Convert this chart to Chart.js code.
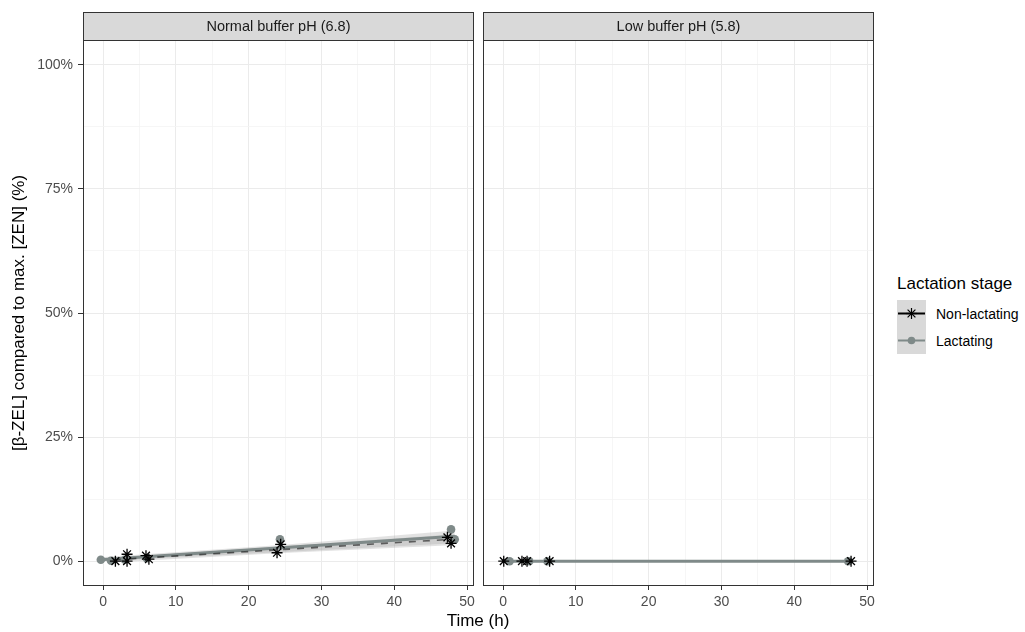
<!DOCTYPE html>
<html>
<head>
<meta charset="utf-8">
<script src="https://cdn.jsdelivr.net/npm/chart.js@4"></script>
<style>
  body { margin: 0; background: #fff; font-family: 'Liberation Sans', Arial, sans-serif; }
  #wrap { position: relative; width: 1025px; height: 632px; overflow: hidden; }
  canvas { position: absolute; top: 0; }
  #xtitle { position: absolute; left: 378px; width: 200px; top: 610px; text-align: center; font-size: 17px; line-height: 22px; color: #000; }
  #legend { position: absolute; left: 897px; top: 274px; color: #000; }
  #legend .ttl { font-size: 17px; line-height: 20px; margin-bottom: 6px; }
  #legend .row { display: flex; align-items: center; height: 27px; }
  #legend .row span { font-size: 14px; margin-left: 10px; }
</style>
</head>
<body>
<div id="wrap">
  <canvas id="leftPanel" width="478" height="632" style="left:0"></canvas>
  <canvas id="rightPanel" width="402" height="632" style="left:478px"></canvas>
  <div id="xtitle">Time (h)</div>
  <div id="legend">
    <div class="ttl">Lactation stage</div>
    <div style="background:#d9d9d9;width:29px;position:absolute;top:26px;height:54px"></div>
    <div class="row" style="position:relative">
      <svg width="29" height="27"><line x1="1" y1="13.5" x2="28" y2="13.5" stroke="#000" stroke-width="2"/>
        <g stroke="#000" stroke-width="1.2"><line x1="14.5" y1="8" x2="14.5" y2="19"/><line x1="9" y1="13.5" x2="20" y2="13.5"/><line x1="10.6" y1="9.6" x2="18.4" y2="17.4"/><line x1="10.6" y1="17.4" x2="18.4" y2="9.6"/></g></svg>
      <span>Non-lactating</span>
    </div>
    <div class="row" style="position:relative">
      <svg width="29" height="27"><line x1="1" y1="13.5" x2="28" y2="13.5" stroke="#7f8a89" stroke-width="2"/><circle cx="14.5" cy="13.5" r="3.8" fill="#7f8a89"/></svg>
      <span>Lactating</span>
    </div>
  </div>
</div>
<script>
// ejes
const timeTicks = [0, 5, 10, 15, 20, 25, 30, 35, 40, 45, 50];
const pctTicks = [0, 12.5, 25, 37.5, 50, 62.5, 75, 87.5, 100];
const panelTitles = ['Normal buffer pH (6.8)', 'Low buffer pH (5.8)'];

// pH normal - puntos
const normNonLactTime = [1.7, 3.3, 3.3, 5.9, 6.3, 23.9, 24.4, 47.3, 47.8];
const normNonLactVal = [0.0, 1.4, 0.0, 1.1, 0.4, 1.7, 3.4, 4.8, 3.6];
const normLactTime = [-0.3, 1.1, 3.0, 6.0, 24.3, 47.8, 48.3];
const normLactVal = [0.3, 0.1, 0.3, 0.6, 4.4, 6.4, 4.4];

// pH normal - ajuste lineal y banda
const normNonLactFitTime = [1.7, 47.8];
const normNonLactFitVal = [0.3, 4.4];
const normLactFitTime = [-0.3, 48.3];
const normLactFitVal = [0.3, 5.0];
const normNonLactBandTime = [1.7, 24.0, 47.8];
const normNonLactBandLow = [-0.2, 1.6, 3.2];
const normNonLactBandHigh = [0.7, 2.9, 5.4];
const normLactBandTime = [-0.3, 24.0, 48.3];
const normLactBandLow = [0.0, 1.8, 3.6];
const normLactBandHigh = [0.8, 3.2, 6.2];

// pH bajo
const lowNonLactTime = [0.1, 2.6, 3.3, 6.4, 47.8];
const lowNonLactVal = [0, 0, 0, 0, 0];
const lowLactTime = [0.9, 3.6, 6.1, 47.4];
const lowLactVal = [0, 0, 0, 0];
const lowFitTime = [0, 48];
const lowFitVal = [0, 0];

const grey = '#7f8a89';
const band = 'rgba(160,160,160,0.3)';

function pts(t, v) {
    return t.map((x, i) => ({ x: x, y: v[i] }));
}

// dibuja la tira gris con el título y el marco del panel
const panelFrame = {
    id: 'panelFrame',
    afterDraw(chart, args, opts) {
        const { ctx, chartArea: a } = chart;
        ctx.save();
        ctx.fillStyle = '#d9d9d9';
        ctx.fillRect(a.left, 12, a.right - a.left, a.top - 12);
        ctx.strokeStyle = '#333333';
        ctx.lineWidth = 1;
        ctx.strokeRect(a.left + 0.5, 12.5, a.right - a.left - 1, a.top - 12);
        ctx.strokeRect(a.left + 0.5, a.top + 0.5, a.right - a.left - 1, a.bottom - a.top - 1);
        ctx.fillStyle = '#1a1a1a';
        ctx.font = '14.5px "Liberation Sans", Arial, sans-serif';
        ctx.textAlign = 'center';
        ctx.textBaseline = 'middle';
        ctx.fillText(opts.title, (a.left + a.right) / 2, (12 + a.top) / 2 + 1);
        ctx.restore();
    }
};

function buildDatasets(p) {
    const ds = [
        { data: pts(p.nlT, p.nlV), showLine: false, pointStyle: 'star', pointRadius: 5.5,
          borderColor: '#000', pointBorderWidth: 1.3, order: 0 },
        { data: pts(p.lT, p.lV), showLine: false, pointStyle: 'circle', pointRadius: 4.3,
          backgroundColor: grey, borderColor: grey, pointBorderWidth: 0, order: 1 },
        { data: pts(p.nlFitT, p.nlFitV), borderColor: p.dashTop ? 'rgba(0,0,0,0.55)' : '#000',
          borderWidth: 1.6, borderDash: p.dashTop ? [7, 7] : [], pointRadius: 0, order: p.dashTop ? 2 : 3 },
        { data: pts(p.lFitT, p.lFitV), borderColor: grey, borderWidth: 3, pointRadius: 0, order: p.dashTop ? 3 : 2 }
    ];
    if (p.bands) {
        ds.push(
            { data: pts(normNonLactBandTime, normNonLactBandHigh), borderWidth: 0, pointRadius: 0,
              backgroundColor: band, fill: '+1', order: 4 },
            { data: pts(normNonLactBandTime, normNonLactBandLow), borderWidth: 0, pointRadius: 0, order: 5 },
            { data: pts(normLactBandTime, normLactBandHigh), borderWidth: 0, pointRadius: 0,
              backgroundColor: band, fill: '+1', order: 6 },
            { data: pts(normLactBandTime, normLactBandLow), borderWidth: 0, pointRadius: 0, order: 7 }
        );
    }
    return ds;
}

function isMajorX(v) { return v % 10 === 0; }
function isMajorY(v) { return v % 25 === 0; }

function buildOptions(showY, title, padding, yWidth) {
    return {
        responsive: false,
        animation: false,
        events: [],
        layout: { padding: padding, autoPadding: false },
        plugins: { legend: { display: false }, tooltip: { enabled: false }, panelFrame: { title: title } },
        scales: {
            x: {
                type: 'linear', min: -2.75, max: 50.95,
                afterBuildTicks: s => { s.ticks = timeTicks.map(v => ({ value: v })); },
                afterFit: s => { s.height = 46; s.paddingLeft = 0; s.paddingRight = 0; },
                border: { display: false },
                grid: {
                    color: c => isMajorX(c.tick.value) ? '#ebebeb' : '#f4f4f4',
                    lineWidth: c => isMajorX(c.tick.value) ? 1 : 0.8,
                    tickColor: c => isMajorX(c.tick.value) ? '#333333' : 'rgba(0,0,0,0)',
                    tickLength: 4
                },
                ticks: {
                    autoSkip: false, maxRotation: 0, padding: 4,
                    color: '#4d4d4d', font: { size: 14, family: '"Liberation Sans", Arial, sans-serif' },
                    callback: v => isMajorX(v) ? v : ''
                }
            },
            y: {
                type: 'linear', min: -5, max: 105,
                afterBuildTicks: s => { s.ticks = pctTicks.map(v => ({ value: v })); },
                afterFit: s => { s.width = yWidth; s.paddingTop = 0; s.paddingBottom = 0; },
                border: { display: false },
                grid: {
                    color: c => isMajorY(c.tick.value) ? '#ebebeb' : '#f4f4f4',
                    lineWidth: c => isMajorY(c.tick.value) ? 1 : 0.8,
                    tickColor: c => isMajorY(c.tick.value) ? '#333333' : 'rgba(0,0,0,0)',
                    tickLength: 5,
                    drawTicks: showY
                },
                ticks: {
                    display: showY, autoSkip: false, padding: 5,
                    color: '#4d4d4d', font: { size: 14, family: '"Liberation Sans", Arial, sans-serif' },
                    callback: v => isMajorY(v) ? v + '%' : ''
                },
                title: {
                    display: showY,
                    text: '[β-ZEL] compared to max. [ZEN] (%)',
                    color: '#000',
                    font: { size: 17, family: '"Liberation Sans", Arial, sans-serif' },
                    padding: { top: 9, bottom: 0 }
                }
            }
        }
    };
}

new Chart(document.getElementById('leftPanel'), {
    type: 'line',
    data: {
        datasets: buildDatasets({
            nlT: normNonLactTime, nlV: normNonLactVal, lT: normLactTime, lV: normLactVal,
            nlFitT: normNonLactFitTime, nlFitV: normNonLactFitVal,
            lFitT: normLactFitTime, lFitV: normLactFitVal, bands: true, dashTop: true
        })
    },
    options: buildOptions(true, panelTitles[0], { top: 40, right: 4, left: 0, bottom: 0 }, 83),
    plugins: [panelFrame]
});

new Chart(document.getElementById('rightPanel'), {
    type: 'line',
    data: {
        datasets: buildDatasets({
            nlT: lowNonLactTime, nlV: lowNonLactVal, lT: lowLactTime, lV: lowLactVal,
            nlFitT: lowFitTime, nlFitV: lowFitVal,
            lFitT: lowFitTime, lFitV: lowFitVal, bands: false, dashTop: false
        })
    },
    options: buildOptions(false, panelTitles[1], { top: 40, right: 6, left: 0, bottom: 0 }, 5),
    plugins: [panelFrame]
});
</script>
</body>
</html>
